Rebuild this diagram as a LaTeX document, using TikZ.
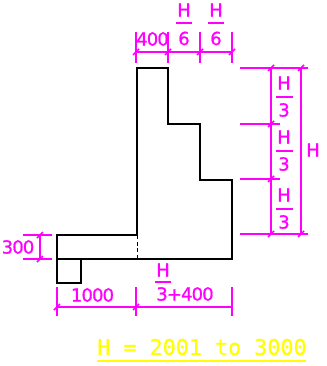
\documentclass[tikz,border=0pt]{standalone}
\usepackage{fontspec}
\usepackage{xcolor}
\setmainfont[FakeBold=1,LetterSpace=-5]{DejaVu Sans}
\newfontfamily\notefont[FakeBold=0.5]{DejaVu Sans Mono}
\definecolor{dim-magenta}{RGB}{255, 0, 255}
\definecolor{note-yellow}{RGB}{255, 255, 0}
\tikzset{
  wall/.style={draw=black, line width=1.15pt},
  dimline/.style={draw=dim-magenta, line width=1.1pt},
  dimlabel/.style={text=dim-magenta, inner sep=0pt, font=\fontsize{13.5}{13.5}\selectfont},
  notelabel/.style={text=note-yellow, inner sep=0pt, font=\notefont\fontsize{16.3}{16.3}\selectfont},
}
\begin{document}
\begin{tikzpicture}[x=0.75pt, y=-0.75pt]
            \useasboundingbox (0, 0) rectangle (326, 366);
            % wall and footing
            \draw[wall] (137, 235) -- (137, 68) -- (168, 68) -- (168, 124) -- (200, 124) -- (200, 180) -- (232, 180) -- (232, 259) -- (57, 259);
            \draw[wall] (137, 235) -- (57, 235) -- (57, 283) -- (81, 283) -- (81, 259);
            \draw[black, line width=0.6pt, densely dashed] (137, 235) -- (137, 259);
            % top dimensions
            \draw[dimline] (136, 52) -- (232, 52);
            \foreach \x in {136, 168, 200, 232} {
                \draw[dimline] (\x, 32) -- (\x, 63);
                \draw[dimline] (\x-3, 55) -- (\x+3, 49);
            }
            \node[dimlabel] (topwidth) at (152.5, 39) {400};
            \foreach \x/\name in {184/a, 216/b} {
                \node[dimlabel] (top\name upper) at (\x, 10) {H};
                \draw[dimline] (\x-8, 23) -- (\x+8, 23);
                \node[dimlabel] (top\name lower) at (\x, 38.5) {6};
            }
            % right dimensions
            \draw[dimline] (271, 68) -- (271, 234);
            \draw[dimline] (301, 68) -- (301, 234);
            \draw[dimline] (240, 68) -- (308, 68);
            \draw[dimline] (240, 124) -- (280, 124);
            \draw[dimline] (240, 179) -- (280, 179);
            \draw[dimline] (240, 234) -- (308, 234);
            \foreach \y in {68, 124, 179, 234} {
                \draw[dimline] (268, \y+3) -- (274, \y-3);
            }
            \foreach \y in {68, 234} {
                \draw[dimline] (298, \y+3) -- (304, \y-3);
            }
            \foreach \y/\name in {83/a, 137/b, 195/c} {
                \node[dimlabel] (right\name upper) at (284, \y) {H};
                \draw[dimline] (275.5, \y+14) -- (292.5, \y+14);
                \node[dimlabel] (right\name lower) at (284, \y+27) {3};
            }
            \node[dimlabel] (height) at (313, 150) {H};
            % footing dimensions
            \draw[dimline] (23, 235) -- (52, 235);
            \draw[dimline] (23, 259) -- (52, 259);
            \draw[dimline] (40, 235) -- (40, 259);
            \draw[dimline] (37, 238) -- (43, 232);
            \draw[dimline] (37, 262) -- (43, 256);
            \node[dimlabel] (footheight) at (18, 247) {300};
            % bottom dimensions
            \draw[dimline] (57, 307) -- (232, 307);
            \foreach \x in {57, 136, 232} {
                \draw[dimline] (\x, 287) -- (\x, 316);
            }
            \foreach \x in {57, 136} {
                \draw[dimline] (\x-3, 310) -- (\x+3, 304);
            }
            \node[dimlabel] (footwidth) at (92.5, 295) {1000};
            \node[dimlabel] (basefracupper) at (163, 270) {H};
            \draw[dimline] (154.5, 282) -- (171, 282);
            \node[dimlabel] (basefraclower) at (185, 294) {3+400};
            % range note
            \node[notelabel] (rangenote) at (202, 347) {H = 2001 to 3000};
            \draw[draw=note-yellow, line width=1.3pt] (97, 361) -- (306, 361);
\end{tikzpicture}
\end{document}
